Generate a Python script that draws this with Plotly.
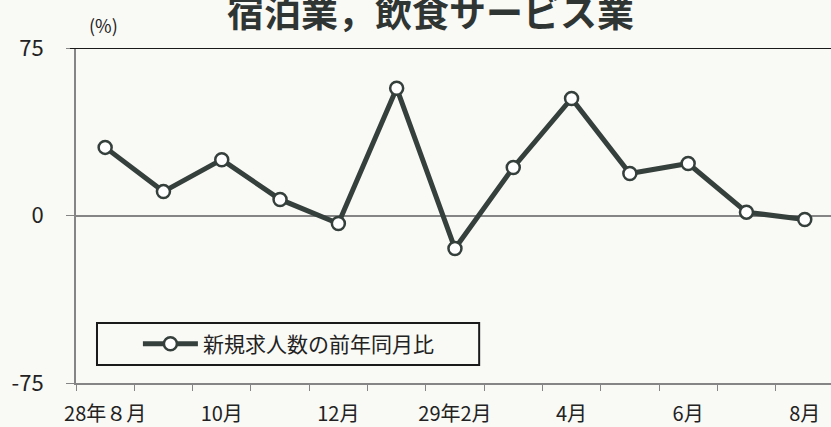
import plotly.graph_objects as go

# 宿泊業，飲食サービス業：新規求人数の前年同月比 (%)
months = ["28年8月", "9月", "10月", "11月", "12月", "29年1月", "29年2月",
          "3月", "4月", "5月", "6月", "7月", "8月"]
yoy = [30.5, 10.7, 25.0, 7.2, -3.6, 57.0, -14.8, 21.5, 52.4, 18.8, 23.3, 1.5, -1.8]
tick_idx = [0, 2, 4, 6, 8, 10, 12]
tick_text = ["28年８月", "10月", "12月", "29年2月", "4月", "6月", "8月"]
y_ticks = [-75, 0, 75]
y_text = ["-75", "0", "75"]

INK = "#353f3c"
AXIS = "#858585"
PAPER = "#f9f9f5"
FONT = "Noto Sans CJK JP"

x = list(range(len(months)))

fig = go.Figure()
fig.add_trace(go.Scatter(
    x=x, y=yoy, mode="lines+markers", name="新規求人数の前年同月比",
    line=dict(color=INK, width=5),
    marker=dict(symbol="circle", size=13, color="white",
                line=dict(color=INK, width=2.5)),
    text=months,
    hovertemplate="%{text}<br>%{y:.1f}%<extra></extra>",
))

# legend frame
fig.add_shape(type="rect", xref="paper", yref="paper",
              x0=0.0278, x1=0.534, y0=0.054, y1=0.179,
              line=dict(color="#1a1a1a", width=2), fillcolor=PAPER, layer="below")
# dark top border
fig.add_shape(type="line", xref="paper", yref="y", x0=-0.008, x1=1, y0=75, y1=75,
              line=dict(color="#1a1a1a", width=2))

fig.add_annotation(text="<b>宿泊業，飲食サービス業</b>", xref="paper", yref="paper",
                   x=0.47, y=1.11, xanchor="center", yanchor="middle", showarrow=False,
                   font=dict(size=37, color="#2f3533", family=FONT))
fig.add_annotation(text="(%)", xref="paper", yref="paper",
                   x=0.037, y=1.069, xanchor="center", yanchor="middle", showarrow=False,
                   font=dict(size=18, color="#222", family=FONT))

fig.update_layout(
    width=831, height=427,
    paper_bgcolor=PAPER, plot_bgcolor=PAPER,
    margin=dict(l=76, r=0, t=48, b=44),
    font=dict(family=FONT, color="#222", size=20),
    showlegend=True,
    legend=dict(x=0.082, y=0.116, xanchor="left", yanchor="middle",
                bgcolor="rgba(0,0,0,0)", borderwidth=0, itemwidth=55,
                font=dict(size=21, family=FONT, color="#222")),
)
fig.update_xaxes(
    range=[-0.5, 12.45], tickvals=tick_idx, ticktext=tick_text, automargin=False,
    ticks="outside", ticklen=0, tickfont=dict(size=20), ticklabelstandoff=12,
    minor=dict(tickmode="linear", tick0=-0.5, dtick=1, ticks="outside",
               ticklen=6, tickcolor=AXIS, showgrid=False),
    showline=True, linecolor=AXIS, linewidth=2, showgrid=False, zeroline=False,
)
fig.update_yaxes(
    range=[-75, 75], tickvals=y_ticks, ticktext=y_text, ticks="outside", ticklen=8,
    tickcolor=AXIS, tickfont=dict(size=22), ticklabelstandoff=18, automargin=False,
    showline=True, linecolor=AXIS, linewidth=2, showgrid=False,
    zeroline=True, zerolinecolor=AXIS, zerolinewidth=1.5,
)

fig.write_html("out.html", config={"displayModeBar": False},
               post_script="document.body.style.margin='0';")
